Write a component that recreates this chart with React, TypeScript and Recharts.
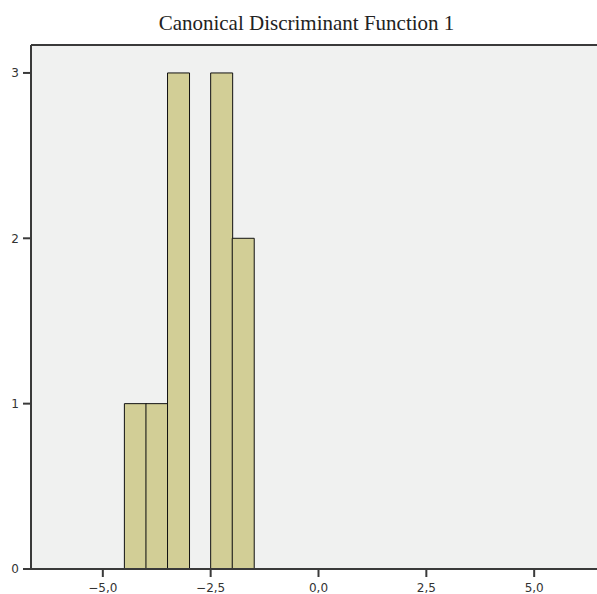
import React from "react";
import { ComposedChart, Bar, XAxis, YAxis, CartesianGrid, ReferenceLine } from "recharts";

const binCenters = [-4.25, -3.75, -3.25, -2.75, -2.25, -1.75];
const counts = [1, 1, 3, 0, 3, 2];
const xTicks = [-5, -2.5, 0, 2.5, 5];
const yTicks = [0, 1, 2, 3];
const title = "Canonical Discriminant Function 1";

const data = binCenters.map((c, i) => ({ x: c, count: counts[i] }));

const fmt = (v: number) => v.toFixed(1).replace(".", ",").replace("-", "\u2212");

const Y_MAX = 3.169;

export default function App() {
  return (
    <div style={{ position: "fixed", left: 0, top: 0, width: 597, height: 594, background: "#fff", overflow: "hidden" }}>
      <div
        style={{
          position: "absolute",
          left: 0,
          width: 597,
          boxSizing: "border-box",
          paddingLeft: 16,
          top: 10,
          textAlign: "center",
          fontFamily: "'Liberation Serif', serif",
          fontSize: 21,
          color: "#222",
          lineHeight: "26px",
          whiteSpace: "nowrap",
        }}
      >
        {title}
      </div>
      <div style={{ position: "absolute", left: 0, top: 0 }}>
        <ComposedChart
          width={606}
          height={594}
          data={data}
          margin={{ top: 45, right: 0, bottom: 0, left: 0 }}
          barCategoryGap={0}
          barGap={0}
        >
          <CartesianGrid horizontal={false} vertical={false} fill="#f0f1f0" />
          <XAxis
            dataKey="x"
            type="number"
            domain={[-6.665, 6.665]}
            ticks={xTicks}
            tickFormatter={fmt}
            allowDataOverflow
            height={25}
            tickSize={8}
            tickMargin={6}
            axisLine={{ stroke: "#3a3a3a", strokeWidth: 2 }}
            tickLine={{ stroke: "#3a3a3a", strokeWidth: 2 }}
            tick={{ fill: "#333", fontSize: 12, fontFamily: "'DejaVu Sans', sans-serif" }}
          />
          <YAxis
            type="number"
            domain={[0, Y_MAX]}
            ticks={yTicks}
            allowDataOverflow
            width={31}
            tickSize={8}
            tickMargin={4}
            axisLine={{ stroke: "#3a3a3a", strokeWidth: 2 }}
            tickLine={{ stroke: "#3a3a3a", strokeWidth: 2 }}
            tick={{ fill: "#333", fontSize: 12, fontFamily: "'DejaVu Sans', sans-serif" }}
          />
          <ReferenceLine y={Y_MAX} stroke="#3a3a3a" strokeWidth={2} ifOverflow="visible" />
          <Bar
            dataKey="count"
            fill="#d2ce96"
            stroke="#111"
            strokeWidth={1}
            isAnimationActive={false}
          />
        </ComposedChart>
      </div>
    </div>
  );
}
